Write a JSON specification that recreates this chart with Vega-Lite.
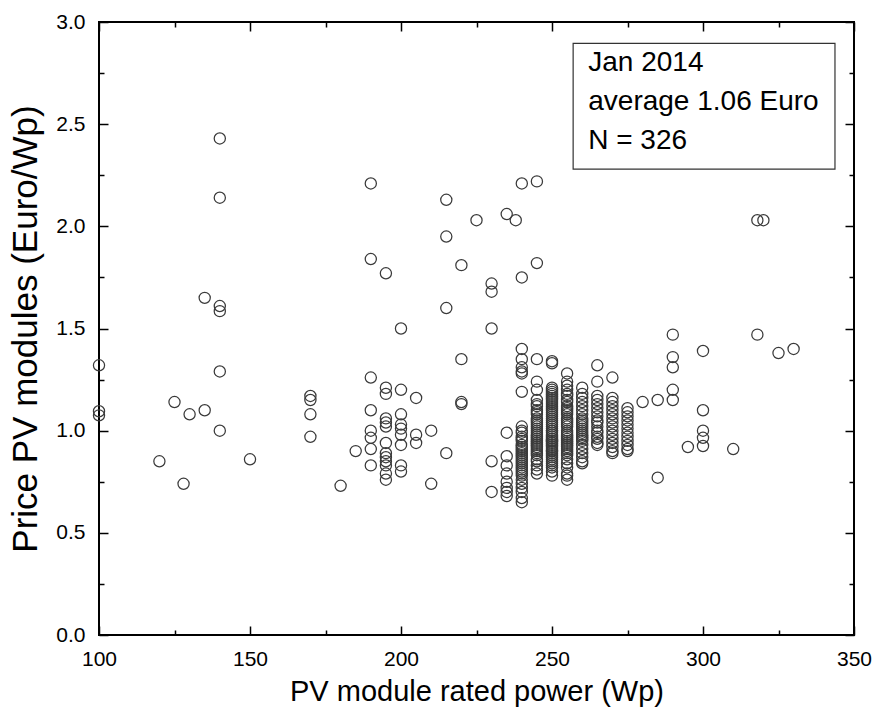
{
  "$schema": "https://vega.github.io/schema/vega-lite/v6.json",
  "width": 755,
  "height": 613,
  "autosize": {"type": "none"},
  "padding": {"left": 99, "top": 22, "right": 25, "bottom": 84},
  "background": "white",
  "config": {
    "view": {"stroke": "black", "strokeWidth": 2},
    "axis": {"grid": false, "domain": false, "tickColor": "black", "tickWidth": 1.5, "labelFont": "Liberation Sans", "labelColor": "black", "labelFontSize": 21, "labelFlush": false, "labelOverlap": false, "titleFont": "Liberation Sans", "titleFontSize": 29, "titleFontWeight": "normal", "titleColor": "black"}
  },
  "datasets": {
    "pts": [
      {"p":100,"v":1.32},{"p":100,"v":1.095},{"p":100,"v":1.075},
      {"p":120,"v":0.85},{"p":125,"v":1.14},{"p":128,"v":0.74},{"p":130,"v":1.08},
      {"p":135,"v":1.65},{"p":135,"v":1.10},
      {"p":140,"v":2.43},{"p":140,"v":2.14},{"p":140,"v":1.61},{"p":140,"v":1.585},{"p":140,"v":1.29},{"p":140,"v":1.00},
      {"p":150,"v":0.86},
      {"p":170,"v":1.17},{"p":170,"v":1.15},{"p":170,"v":1.08},{"p":170,"v":0.97},
      {"p":180,"v":0.73},{"p":185,"v":0.90},
      {"p":190,"v":2.21},{"p":190,"v":1.84},{"p":190,"v":1.26},{"p":190,"v":1.10},{"p":190,"v":1.00},{"p":190,"v":0.965},{"p":190,"v":0.91},{"p":190,"v":0.83},
      {"p":195,"v":1.77},{"p":195,"v":1.21},{"p":195,"v":1.18},{"p":195,"v":1.06},{"p":195,"v":1.04},{"p":195,"v":1.02},{"p":195,"v":0.94},{"p":195,"v":0.89},{"p":195,"v":0.87},{"p":195,"v":0.85},{"p":195,"v":0.83},{"p":195,"v":0.79},{"p":195,"v":0.76},
      {"p":200,"v":1.50},{"p":200,"v":1.20},{"p":200,"v":1.08},{"p":200,"v":1.03},{"p":200,"v":1.01},{"p":200,"v":0.98},{"p":200,"v":0.93},{"p":200,"v":0.83},{"p":200,"v":0.80},
      {"p":205,"v":1.16},{"p":205,"v":0.98},{"p":205,"v":0.94},
      {"p":210,"v":1.00},{"p":210,"v":0.74},
      {"p":215,"v":2.13},{"p":215,"v":1.95},{"p":215,"v":1.60},{"p":215,"v":0.89},
      {"p":220,"v":1.81},{"p":220,"v":1.35},{"p":220,"v":1.14},{"p":220,"v":1.13},
      {"p":225,"v":2.03},
      {"p":230,"v":1.72},{"p":230,"v":1.68},{"p":230,"v":1.50},{"p":230,"v":0.85},{"p":230,"v":0.70},
      {"p":235,"v":2.06},{"p":235,"v":0.99},{"p":235,"v":0.875},{"p":235,"v":0.83},{"p":235,"v":0.79},{"p":235,"v":0.75},{"p":235,"v":0.72},{"p":235,"v":0.70},{"p":235,"v":0.68},
      {"p":238,"v":2.03},
      {"p":240,"v":2.21},{"p":240,"v":1.75},{"p":240,"v":1.40},{"p":240,"v":1.35},{"p":240,"v":1.31},{"p":240,"v":1.29},{"p":240,"v":1.28},{"p":240,"v":1.19},
      {"p":240,"v":1.02},{"p":240,"v":1.00},{"p":240,"v":0.99},{"p":240,"v":0.97},{"p":240,"v":0.96},{"p":240,"v":0.95},{"p":240,"v":0.93},{"p":240,"v":0.92},{"p":240,"v":0.91},{"p":240,"v":0.90},{"p":240,"v":0.89},{"p":240,"v":0.88},{"p":240,"v":0.87},{"p":240,"v":0.86},{"p":240,"v":0.85},{"p":240,"v":0.84},{"p":240,"v":0.83},{"p":240,"v":0.82},{"p":240,"v":0.81},{"p":240,"v":0.80},{"p":240,"v":0.79},{"p":240,"v":0.78},{"p":240,"v":0.76},{"p":240,"v":0.74},{"p":240,"v":0.72},{"p":240,"v":0.70},{"p":240,"v":0.67},{"p":240,"v":0.65},
      {"p":245,"v":2.22},{"p":245,"v":1.82},{"p":245,"v":1.35},{"p":245,"v":1.24},{"p":245,"v":1.20},
      {"p":245,"v":1.15},{"p":245,"v":1.13},{"p":245,"v":1.12},{"p":245,"v":1.10},{"p":245,"v":1.09},{"p":245,"v":1.08},{"p":245,"v":1.06},{"p":245,"v":1.05},{"p":245,"v":1.04},{"p":245,"v":1.03},{"p":245,"v":1.02},{"p":245,"v":1.01},{"p":245,"v":1.00},{"p":245,"v":0.99},{"p":245,"v":0.98},{"p":245,"v":0.97},{"p":245,"v":0.96},{"p":245,"v":0.95},{"p":245,"v":0.94},{"p":245,"v":0.93},{"p":245,"v":0.92},{"p":245,"v":0.91},{"p":245,"v":0.90},{"p":245,"v":0.89},{"p":245,"v":0.88},{"p":245,"v":0.86},{"p":245,"v":0.85},{"p":245,"v":0.83},{"p":245,"v":0.81},{"p":245,"v":0.79},
      {"p":250,"v":1.34},{"p":250,"v":1.33},
      {"p":250,"v":1.21},{"p":250,"v":1.20},{"p":250,"v":1.19},{"p":250,"v":1.18},{"p":250,"v":1.17},{"p":250,"v":1.16},{"p":250,"v":1.15},{"p":250,"v":1.14},{"p":250,"v":1.13},{"p":250,"v":1.12},{"p":250,"v":1.11},{"p":250,"v":1.10},{"p":250,"v":1.09},{"p":250,"v":1.08},{"p":250,"v":1.07},{"p":250,"v":1.06},{"p":250,"v":1.05},{"p":250,"v":1.04},{"p":250,"v":1.03},{"p":250,"v":1.02},{"p":250,"v":1.01},{"p":250,"v":1.00},{"p":250,"v":1.00},{"p":250,"v":0.99},{"p":250,"v":0.98},{"p":250,"v":0.97},{"p":250,"v":0.96},{"p":250,"v":0.95},{"p":250,"v":0.95},{"p":250,"v":0.94},{"p":250,"v":0.93},{"p":250,"v":0.92},{"p":250,"v":0.91},{"p":250,"v":0.90},{"p":250,"v":0.90},{"p":250,"v":0.89},{"p":250,"v":0.88},{"p":250,"v":0.87},{"p":250,"v":0.86},{"p":250,"v":0.85},{"p":250,"v":0.84},{"p":250,"v":0.83},{"p":250,"v":0.82},{"p":250,"v":0.80},{"p":250,"v":0.78},
      {"p":255,"v":1.28},
      {"p":255,"v":1.24},{"p":255,"v":1.22},{"p":255,"v":1.20},{"p":255,"v":1.18},{"p":255,"v":1.17},{"p":255,"v":1.15},{"p":255,"v":1.14},{"p":255,"v":1.12},{"p":255,"v":1.11},{"p":255,"v":1.10},{"p":255,"v":1.09},{"p":255,"v":1.08},{"p":255,"v":1.06},{"p":255,"v":1.05},{"p":255,"v":1.04},{"p":255,"v":1.03},{"p":255,"v":1.02},{"p":255,"v":1.00},{"p":255,"v":0.99},{"p":255,"v":0.98},{"p":255,"v":0.97},{"p":255,"v":0.96},{"p":255,"v":0.95},{"p":255,"v":0.94},{"p":255,"v":0.93},{"p":255,"v":0.92},{"p":255,"v":0.91},{"p":255,"v":0.90},{"p":255,"v":0.89},{"p":255,"v":0.88},{"p":255,"v":0.86},{"p":255,"v":0.84},{"p":255,"v":0.82},{"p":255,"v":0.79},{"p":255,"v":0.78},{"p":255,"v":0.76},
      {"p":260,"v":1.21},{"p":260,"v":1.18},{"p":260,"v":1.16},{"p":260,"v":1.14},{"p":260,"v":1.12},{"p":260,"v":1.10},{"p":260,"v":1.08},{"p":260,"v":1.06},{"p":260,"v":1.05},{"p":260,"v":1.04},{"p":260,"v":1.03},{"p":260,"v":1.02},{"p":260,"v":1.01},{"p":260,"v":1.00},{"p":260,"v":0.99},{"p":260,"v":0.98},{"p":260,"v":0.97},{"p":260,"v":0.96},{"p":260,"v":0.95},{"p":260,"v":0.93},{"p":260,"v":0.91},{"p":260,"v":0.89},{"p":260,"v":0.87},{"p":260,"v":0.85},{"p":260,"v":0.84},
      {"p":265,"v":1.32},{"p":265,"v":1.24},
      {"p":265,"v":1.17},{"p":265,"v":1.15},{"p":265,"v":1.13},{"p":265,"v":1.11},{"p":265,"v":1.09},{"p":265,"v":1.07},{"p":265,"v":1.05},{"p":265,"v":1.04},{"p":265,"v":1.02},{"p":265,"v":1.00},{"p":265,"v":0.99},{"p":265,"v":0.97},{"p":265,"v":0.96},{"p":265,"v":0.94},{"p":265,"v":0.93},
      {"p":270,"v":1.26},
      {"p":270,"v":1.16},{"p":270,"v":1.14},{"p":270,"v":1.12},{"p":270,"v":1.10},{"p":270,"v":1.08},{"p":270,"v":1.06},{"p":270,"v":1.04},{"p":270,"v":1.02},{"p":270,"v":1.00},{"p":270,"v":0.98},{"p":270,"v":0.96},{"p":270,"v":0.94},{"p":270,"v":0.92},{"p":270,"v":0.90},{"p":270,"v":0.89},
      {"p":275,"v":1.11},{"p":275,"v":1.09},{"p":275,"v":1.07},{"p":275,"v":1.05},{"p":275,"v":1.03},{"p":275,"v":1.01},{"p":275,"v":0.99},{"p":275,"v":0.97},{"p":275,"v":0.95},{"p":275,"v":0.93},{"p":275,"v":0.91},{"p":275,"v":0.90},
      {"p":280,"v":1.14},{"p":285,"v":1.15},{"p":285,"v":0.77},
      {"p":290,"v":1.47},{"p":290,"v":1.36},{"p":290,"v":1.31},{"p":290,"v":1.20},{"p":290,"v":1.15},
      {"p":295,"v":0.92},
      {"p":300,"v":1.39},{"p":300,"v":1.10},{"p":300,"v":1.00},{"p":300,"v":0.965},{"p":300,"v":0.925},
      {"p":310,"v":0.91},
      {"p":318,"v":2.03},{"p":318,"v":1.47},{"p":320,"v":2.03},{"p":325,"v":1.38},{"p":330,"v":1.40}
    ],
    "note": [
      {"p":257,"p2":343.7,"v":2.895,"v2":2.28}
    ],
    "lines": [
      {"p":262,"v":2.80,"t":"Jan 2014"},
      {"p":262,"v":2.61,"t":"average 1.06 Euro"},
      {"p":262,"v":2.42,"t":"N = 326"}
    ]
  },
  "resolve": {"axis": {"x": "independent", "y": "independent"}},
  "layer": [
    {
      "data": {"name": "pts"},
      "mark": {"type": "point", "shape": "circle", "filled": false, "size": 125, "stroke": "#3a3a3a", "strokeWidth": 1.25, "opacity": 1},
      "encoding": {
        "x": {"field": "p", "type": "quantitative", "scale": {"domain": [100, 350], "nice": false, "zero": false},
              "axis": {"orient": "bottom", "values": [100,150,200,250,300,350], "tickSize": -9, "labelPadding": 22, "title": "PV module rated power (Wp)", "titleY": 56, "titleBaseline": "middle"}},
        "y": {"field": "v", "type": "quantitative", "scale": {"domain": [0, 3], "nice": false, "zero": false},
              "axis": {"orient": "left", "values": [0,0.5,1,1.5,2,2.5,3], "format": ".1f", "tickSize": -9, "labelPadding": 23, "title": "Price PV modules (Euro/Wp)", "titleFontSize": 35, "titleX": -74, "titleBaseline": "middle", "titleAngle": -90}}
      }
    },
    {
      "data": {"name": "pts"},
      "mark": {"type": "point", "opacity": 0},
      "encoding": {
        "x": {"field": "p", "type": "quantitative", "axis": {"orient": "bottom", "values": [125,175,225,275,325], "tickSize": -5, "labels": false, "title": null}},
        "y": {"field": "v", "type": "quantitative", "axis": {"orient": "left", "values": [0.25,0.75,1.25,1.75,2.25,2.75], "tickSize": -5, "labels": false, "title": null}}
      }
    },
    {
      "data": {"name": "pts"},
      "mark": {"type": "point", "opacity": 0},
      "encoding": {
        "x": {"field": "p", "type": "quantitative", "axis": {"orient": "top", "values": [100,150,200,250,300,350], "tickSize": -9, "labels": false, "title": null}},
        "y": {"field": "v", "type": "quantitative", "axis": {"orient": "right", "values": [0,0.5,1,1.5,2,2.5,3], "tickSize": -9, "labels": false, "title": null}}
      }
    },
    {
      "data": {"name": "pts"},
      "mark": {"type": "point", "opacity": 0},
      "encoding": {
        "x": {"field": "p", "type": "quantitative", "axis": {"orient": "top", "values": [125,175,225,275,325], "tickSize": -5, "labels": false, "title": null}},
        "y": {"field": "v", "type": "quantitative", "axis": {"orient": "right", "values": [0.25,0.75,1.25,1.75,2.25,2.75], "tickSize": -5, "labels": false, "title": null}}
      }
    },
    {
      "data": {"name": "note"},
      "mark": {"type": "rect", "fill": "white", "stroke": "#333333", "strokeWidth": 1.2},
      "encoding": {
        "x": {"field": "p", "type": "quantitative", "axis": null},
        "x2": {"field": "p2"},
        "y": {"field": "v", "type": "quantitative", "axis": null},
        "y2": {"field": "v2"}
      }
    },
    {
      "data": {"name": "lines"},
      "mark": {"type": "text", "align": "left", "baseline": "middle", "font": "Liberation Sans", "fontSize": 28, "color": "black"},
      "encoding": {
        "x": {"field": "p", "type": "quantitative", "axis": null},
        "y": {"field": "v", "type": "quantitative", "axis": null},
        "text": {"field": "t"}
      }
    }
  ]
}
